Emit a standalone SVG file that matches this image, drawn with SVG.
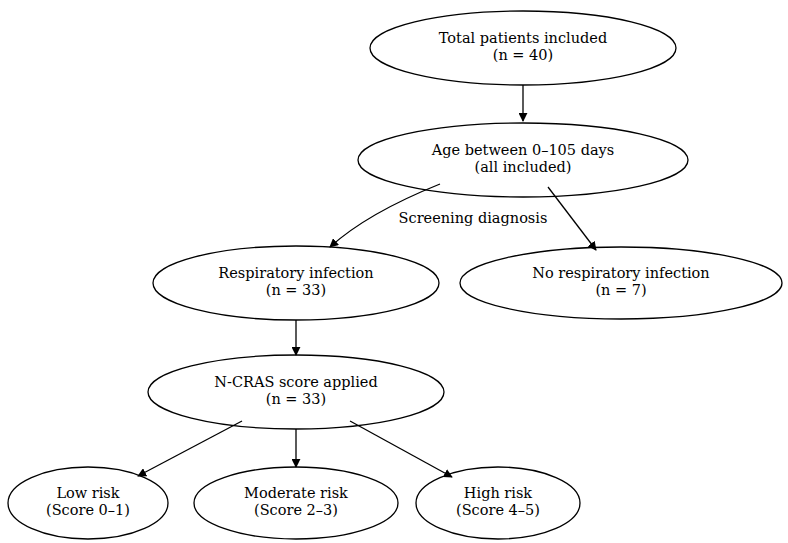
<svg xmlns="http://www.w3.org/2000/svg" width="788" height="543" viewBox="0 0 788 543">
<defs>
<style>
.n ellipse{fill:none;stroke:#000;stroke-width:1.3}
text{font-family:"DejaVu Serif","Liberation Serif",serif;font-size:14.5px;text-anchor:middle;fill:#000}
.e path{fill:none;stroke:#000;stroke-width:1.3;marker-end:url(#a)}
</style>
<marker id="a" viewBox="0 0 10 10" refX="9" refY="5" markerWidth="9" markerHeight="9" markerUnits="userSpaceOnUse" orient="auto"><path d="M0,0L10,5L0,10z" fill="#000"/></marker>
</defs>
<rect width="788" height="543" fill="#fff"/>
<g class="e" id="edges">
<path d="M523,85L523,121"/>
<path d="M440,184C400,200 360,220 330,247"/>
<text x="473" y="223">Screening diagnosis</text>
<path d="M548,187L596,250"/>
<path d="M296,320L296,355"/>
<path d="M242,421L138,476"/>
<path d="M296,429L296,467"/>
<path d="M350,421L452,477"/>
</g>
<g class="n" id="n1"><ellipse cx="523" cy="48" rx="153" ry="37"/><text x="523" y="43">Total patients included</text><text x="523" y="60">(n = 40)</text></g>
<g class="n" id="n2"><ellipse cx="523" cy="160" rx="165" ry="37"/><text x="523" y="155">Age between 0–105 days</text><text x="523" y="172">(all included)</text></g>
<g class="n" id="n3"><ellipse cx="296" cy="283" rx="143" ry="37"/><text x="296" y="278">Respiratory infection</text><text x="296" y="295">(n = 33)</text></g>
<g class="n" id="n4"><ellipse cx="621" cy="283" rx="161" ry="36"/><text x="621" y="278">No respiratory infection</text><text x="621" y="295">(n = 7)</text></g>
<g class="n" id="n5"><ellipse cx="296" cy="392" rx="148" ry="37"/><text x="296" y="387">N-CRAS score applied</text><text x="296" y="404">(n = 33)</text></g>
<g class="n" id="n6"><ellipse cx="88" cy="503" rx="80" ry="36"/><text x="88" y="498">Low risk</text><text x="88" y="515">(Score 0–1)</text></g>
<g class="n" id="n7"><ellipse cx="296" cy="503" rx="102" ry="36"/><text x="296" y="498">Moderate risk</text><text x="296" y="515">(Score 2–3)</text></g>
<g class="n" id="n8"><ellipse cx="498" cy="503" rx="82" ry="36"/><text x="498" y="498">High risk</text><text x="498" y="515">(Score 4–5)</text></g>
</svg>
